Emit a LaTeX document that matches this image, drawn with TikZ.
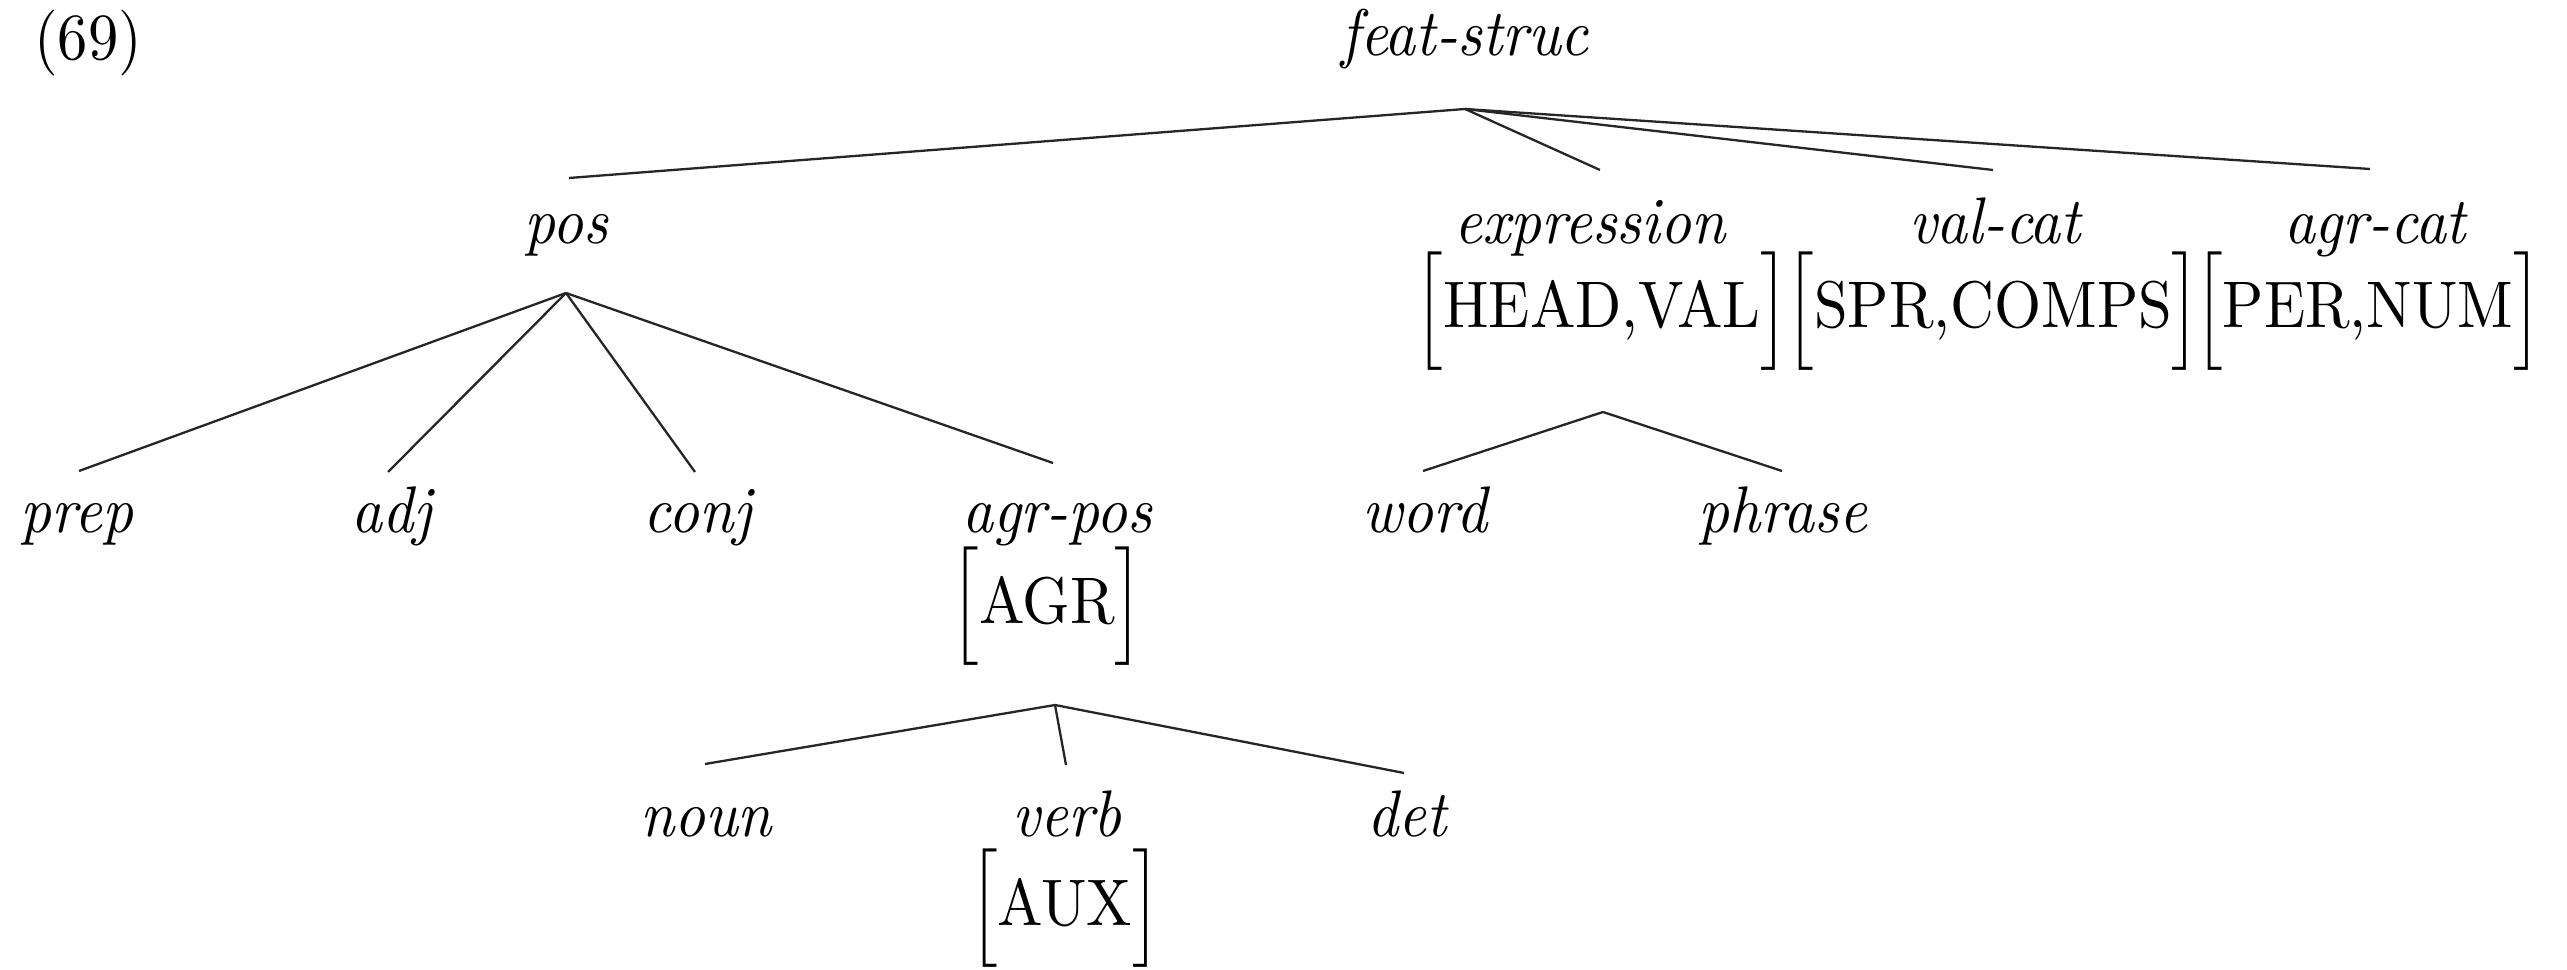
\documentclass[tikz,border=0pt]{standalone}
\usepackage{graphicx}
\newcommand{\nq}[1]{\scalebox{0.92}[1]{#1}}
\newcommand{\avmbox}[1]{\scalebox{0.92}[1]{$\Big[\mbox{#1}\Big]$}}
\begin{document}
\begin{tikzpicture}[x=0.1518pt, y=-0.1518pt,
  lab/.style={inner sep=0pt, anchor=base, font=\fontsize{10}{12}\selectfont\itshape},
  avm/.style={inner sep=0pt, anchor=base, font=\fontsize{10}{12}\selectfont},
  edge/.style={line width=0.35pt, draw=black!85}]
\useasboundingbox (0,0) rectangle (2567,970);
% labels
\node[avm, anchor=base west] (num) at (33,60) {\nq{(69)}};
\node[lab] (fs) at (1465,56) {\nq{feat-struc}};
\node[lab] (pos) at (566,244) {\nq{pos}};
\node[lab] (expr) at (1590,244) {\nq{expression}};
\node[lab] (valcat) at (1995,244) {\nq{val-cat}};
\node[lab] (agrcat) at (2375,244) {\nq{agr-cat}};
\node[avm] (hv) at (1602,328) {\avmbox{HEAD,VAL}};
\node[avm] (sc) at (1993,328) {\avmbox{SPR,COMPS}};
\node[avm] (pn) at (2368,328) {\avmbox{PER,NUM}};
\node[lab] (prep) at (77,533) {\nq{prep}};
\node[lab] (adj) at (392,533) {\nq{adj}};
\node[lab] (conj) at (698,533) {\nq{conj}};
\node[lab] (agrpos) at (1057,533) {\nq{agr-pos}};
\node[lab] (word) at (1425,533) {\nq{word}};
\node[lab] (phrase) at (1783,533) {\nq{phrase}};
\node[avm] (agr) at (1047,623) {\avmbox{AGR}};
\node[lab] (noun) at (706,836) {\nq{noun}};
\node[lab] (verb) at (1067,836) {\nq{verb}};
\node[lab] (det) at (1407,836) {\nq{det}};
\node[avm] (aux) at (1065,925) {\avmbox{AUX}};
% branch points and line ends
\coordinate (fsB) at (1465,109);
\coordinate (posT) at (569,178);
\coordinate (exprT) at (1600,170);
\coordinate (valT) at (1993,170);
\coordinate (agrcT) at (2370,169);
\coordinate (posB) at (566,293);
\coordinate (prepT) at (79,471);
\coordinate (adjT) at (388,472);
\coordinate (conjT) at (695,472);
\coordinate (agrpT) at (1053,463);
\coordinate (hvB) at (1603,412);
\coordinate (wordT) at (1423,471);
\coordinate (phraseT) at (1782,471);
\coordinate (agrB) at (1055,705);
\coordinate (nounT) at (705,764);
\coordinate (verbT) at (1066,765);
\coordinate (detT) at (1404,773);
% connectors
\draw[edge] (fsB) -- (posT);
\draw[edge] (fsB) -- (exprT);
\draw[edge] (fsB) -- (valT);
\draw[edge] (fsB) -- (agrcT);
\draw[edge] (posB) -- (prepT);
\draw[edge] (posB) -- (adjT);
\draw[edge] (posB) -- (conjT);
\draw[edge] (posB) -- (agrpT);
\draw[edge] (hvB) -- (wordT);
\draw[edge] (hvB) -- (phraseT);
\draw[edge] (agrB) -- (nounT);
\draw[edge] (agrB) -- (verbT);
\draw[edge] (agrB) -- (detT);
\end{tikzpicture}
\end{document}
